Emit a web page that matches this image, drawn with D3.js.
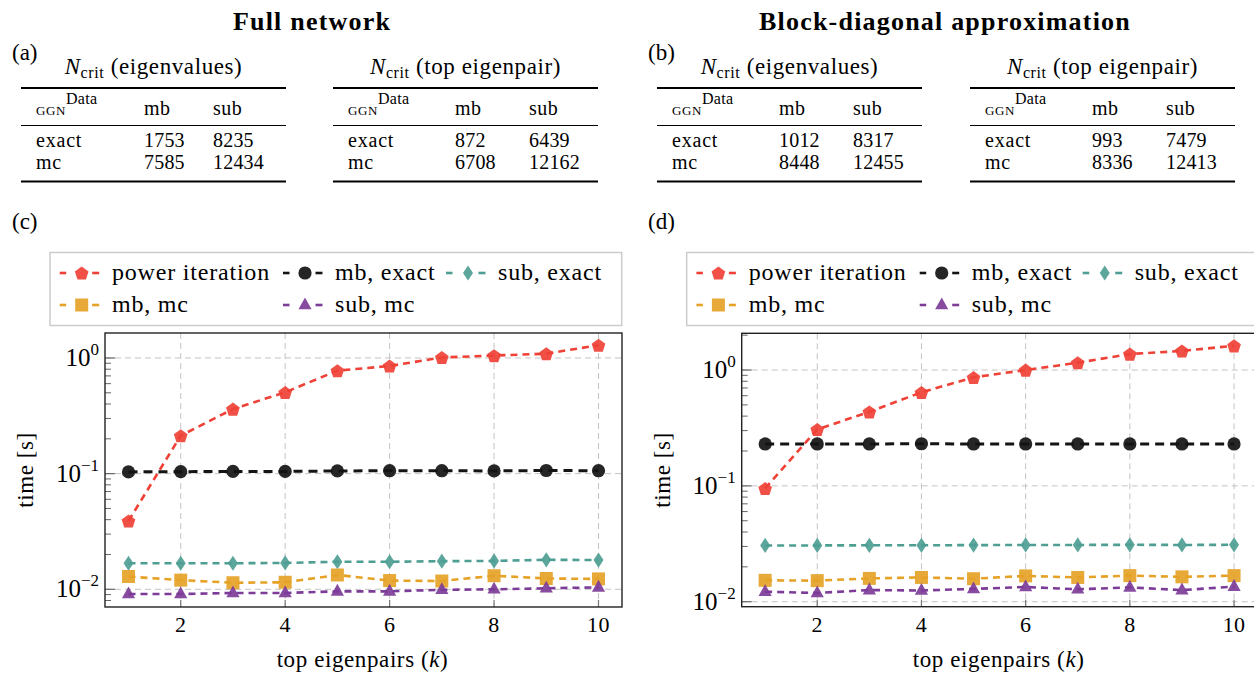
<!DOCTYPE html>
<html>
<head>
<meta charset="utf-8">
<script src="https://cdn.jsdelivr.net/npm/d3@7/dist/d3.min.js"></script>
<style>
  html, body { margin: 0; padding: 0; background: #fff; }
  svg { display: block; font-family: "Liberation Serif", "Times New Roman", serif; }
</style>
</head>
<body>
<svg id="fig" width="1254" height="673"></svg>
<script>
// ---- runtime data (seconds) for the top-k eigenpairs, k = 1..10 ----
const ks = [1, 2, 3, 4, 5, 6, 7, 8, 9, 10];

const fullPower    = [0.039, 0.213, 0.362, 0.505, 0.777, 0.853, 1.01, 1.05, 1.09, 1.29];
const fullMbExact  = [0.1035, 0.1040, 0.1045, 0.1045, 0.1055, 0.106, 0.106, 0.1055, 0.1065, 0.106];
const fullSubExact = [0.0168, 0.0168, 0.0168, 0.0169, 0.0173, 0.0173, 0.0175, 0.0176, 0.0180, 0.0179];
const fullMbMc     = [0.0129, 0.0120, 0.0114, 0.0115, 0.0133, 0.0119, 0.0118, 0.0131, 0.0124, 0.0123];
const fullSubMc    = [0.0091, 0.0091, 0.0093, 0.0093, 0.0096, 0.0096, 0.0099, 0.0100, 0.0102, 0.0104];

const blockPower    = [0.095, 0.307, 0.436, 0.642, 0.865, 1.00, 1.156, 1.375, 1.46, 1.62];
const blockMbExact  = [0.230, 0.230, 0.230, 0.231, 0.230, 0.230, 0.230, 0.230, 0.230, 0.230];
const blockSubExact = [0.0306, 0.0306, 0.0307, 0.0307, 0.0308, 0.0309, 0.0309, 0.0310, 0.0309, 0.0310];
const blockMbMc     = [0.0153, 0.0152, 0.0159, 0.0162, 0.0158, 0.0167, 0.0162, 0.0168, 0.0164, 0.0168];
const blockSubMc    = [0.0122, 0.0119, 0.0126, 0.0125, 0.0129, 0.0134, 0.0128, 0.0133, 0.0126, 0.0135];

const seriesNames  = ["power iteration", "mb, exact", "sub, exact", "mb, mc", "sub, mc"];
const seriesColors = ["#EF4136", "#141414", "#4E9E94", "#E5A227", "#7D3C98"];
const seriesMarks  = ["pentagon", "circle", "diamond", "square", "triangle"];

const xTicks = [2, 4, 6, 8, 10];

// ---- critical batch sizes N_crit ----
const tableRows = ["exact", "mc"];
const tableCols = ["mb", "sub"];
const fullEig   = [[1753, 8235], [7585, 12434]];
const fullTop   = [[872, 6439], [6708, 12162]];
const blockEig  = [[1012, 8317], [8448, 12455]];
const blockTop  = [[993, 7479], [8336, 12413]];

const svg = d3.select("#fig");

// ---- marker shapes ----
function markPath(kind) {
  const p = d3.path();
  if (kind === "pentagon") {
    const R = 7.2;
    for (let i = 0; i < 5; i++) {
      const a = -Math.PI / 2 + i * 2 * Math.PI / 5;
      const x = R * Math.cos(a), y = R * Math.sin(a) + 0.8;
      i ? p.lineTo(x, y) : p.moveTo(x, y);
    }
    p.closePath();
  } else if (kind === "circle") {
    p.arc(0, 0, 6.6, 0, 2 * Math.PI);
  } else if (kind === "diamond") {
    p.moveTo(0, -7.6); p.lineTo(5, 0); p.lineTo(0, 7.6); p.lineTo(-5, 0); p.closePath();
  } else if (kind === "square") {
    p.rect(-6.5, -6.5, 13, 13);
  } else if (kind === "triangle") {
    p.moveTo(0, -7.5); p.lineTo(6.6, 4.3); p.lineTo(-6.6, 4.3); p.closePath();
  }
  return p.toString();
}

// ---- headings ----
svg.append("text").attr("x", 312).attr("y", 30).attr("text-anchor", "middle")
  .attr("font-size", 26).attr("font-weight", "bold").attr("letter-spacing", 1.2).text("Full network");
svg.append("text").attr("x", 945).attr("y", 30).attr("text-anchor", "middle")
  .attr("font-size", 26).attr("font-weight", "bold").attr("letter-spacing", 1.2).text("Block-diagonal approximation");

// ---- panel letters ----
[["(a)", 12, 60], ["(b)", 648, 60], ["(c)", 12, 229], ["(d)", 648, 229]].forEach(([t, x, y]) => {
  svg.append("text").attr("x", x).attr("y", y).attr("font-size", 23).text(t);
});

// ---- booktabs-style tables ----
function drawTable(L, caption, values, colX) {
  const g = svg.append("g");
  const title = g.append("text").attr("x", L + 132.5).attr("y", 74)
    .attr("text-anchor", "middle").attr("font-size", 23).attr("letter-spacing", 0.6);
  title.append("tspan").attr("font-style", "italic").text("N");
  title.append("tspan").attr("font-size", 16).attr("dy", 4).text("crit");
  title.append("tspan").attr("dy", -4).text(" (" + caption + ")");

  g.append("line").attr("x1", L).attr("x2", L + 265).attr("y1", 88).attr("y2", 88)
    .attr("stroke", "#000").attr("stroke-width", 2);
  g.append("line").attr("x1", L).attr("x2", L + 265).attr("y1", 125.5).attr("y2", 125.5)
    .attr("stroke", "#000").attr("stroke-width", 1);
  g.append("line").attr("x1", L).attr("x2", L + 265).attr("y1", 181.5).attr("y2", 181.5)
    .attr("stroke", "#000").attr("stroke-width", 2);

  const head = g.append("text").attr("x", L + 15).attr("y", 115).attr("font-size", 13)
    .attr("letter-spacing", 0.6);
  head.append("tspan").text("GGN");
  head.append("tspan").attr("dy", -11).attr("font-size", 16).attr("letter-spacing", 0.3).text("Data");

  tableCols.forEach((c, j) => {
    g.append("text").attr("x", L + colX[j]).attr("y", 115).attr("font-size", 20)
      .attr("letter-spacing", 0.5).text(c);
  });
  tableRows.forEach((r, i) => {
    const y = 147 + i * 22;
    g.append("text").attr("x", L + 15).attr("y", y).attr("font-size", 20)
      .attr("letter-spacing", 0.8).text(r);
    values[i].forEach((v, j) => {
      g.append("text").attr("x", L + colX[j]).attr("y", y).attr("font-size", 20)
        .attr("letter-spacing", 0.2).text(v);
    });
  });
}
drawTable(21, "eigenvalues", fullEig, [123, 192]);
drawTable(333, "top eigenpair", fullTop, [122, 196]);
drawTable(657, "eigenvalues", blockEig, [122, 196]);
drawTable(970, "top eigenpair", blockTop, [122, 196]);

// ---- runtime panels ----
const panels = [
  { left: 105, right: 622, top: 333, bottom: 607, lo: -2.153, hi: 0.216,
    series: [fullPower, fullMbExact, fullSubExact, fullMbMc, fullSubMc] },
  { left: 741.7, right: 1257.5, top: 333.3, bottom: 606.7, lo: -2.043, hi: 0.317,
    series: [blockPower, blockMbExact, blockSubExact, blockMbMc, blockSubMc] }
];

const legendLayout = [
  { col: 0, row: 0 }, { col: 1, row: 0 }, { col: 2, row: 0 },
  { col: 0, row: 1 }, { col: 1, row: 1 }
];
const legendMarkX = [31.7, 255, 418];   // marker centres relative to legend box
const legendTextX = [62, 285, 448];

panels.forEach(P => {
  const x = d3.scaleLinear().domain([0.55, 10.45]).range([P.left, P.right]);
  const y = d3.scaleLog().domain([Math.pow(10, P.lo), Math.pow(10, P.hi)]).range([P.bottom, P.top]);
  const g = svg.append("g");

  const majors = [];
  const minors = [];
  for (let e = -3; e <= 1; e++) {
    const m = Math.pow(10, e);
    if (Math.log10(m) >= P.lo && Math.log10(m) <= P.hi) majors.push(m);
    for (let f = 2; f <= 9; f++) {
      const v = f * m, lv = Math.log10(v);
      if (lv >= P.lo && lv <= P.hi) minors.push(v);
    }
  }

  // grid
  g.append("g").selectAll("line").data(xTicks).join("line")
    .attr("x1", d => x(d)).attr("x2", d => x(d)).attr("y1", P.top).attr("y2", P.bottom)
    .attr("stroke", "#c4c4c4").attr("stroke-width", 1).attr("stroke-dasharray", "6,4");
  g.append("g").selectAll("line").data(majors).join("line")
    .attr("x1", P.left).attr("x2", P.right).attr("y1", d => y(d)).attr("y2", d => y(d))
    .attr("stroke", "#c4c4c4").attr("stroke-width", 1).attr("stroke-dasharray", "6,4");

  // ticks (inward)
  g.append("g").selectAll("line").data(xTicks).join("line")
    .attr("x1", d => x(d)).attr("x2", d => x(d)).attr("y1", P.bottom).attr("y2", P.bottom - 7)
    .attr("stroke", "#777").attr("stroke-width", 1.2);
  g.append("g").selectAll("line").data(minors).join("line")
    .attr("x1", P.left).attr("x2", P.left + 6).attr("y1", d => y(d)).attr("y2", d => y(d))
    .attr("stroke", "#666").attr("stroke-width", 1);
  g.append("g").selectAll("line").data(majors).join("line")
    .attr("x1", P.left).attr("x2", P.left + 10).attr("y1", d => y(d)).attr("y2", d => y(d))
    .attr("stroke", "#666").attr("stroke-width", 1.2);

  // series
  P.series.forEach((vals, si) => {
    const pts = ks.map((k, i) => [x(k), y(vals[i])]);
    g.append("path").attr("d", d3.line()(pts)).attr("fill", "none")
      .attr("stroke", seriesColors[si]).attr("stroke-width", si === 1 ? 3 : 2.6)
      .attr("stroke-dasharray", si === 1 ? "9,6" : "7,5");
  });
  P.series.forEach((vals, si) => {
    g.append("g").selectAll("path").data(ks).join("path")
      .attr("d", markPath(seriesMarks[si]))
      .attr("transform", (k, i) => `translate(${x(k)},${y(vals[i])})`)
      .attr("fill", seriesColors[si]).attr("fill-opacity", 0.92);
  });

  // frame
  g.append("rect").attr("x", P.left).attr("y", P.top)
    .attr("width", P.right - P.left).attr("height", P.bottom - P.top)
    .attr("fill", "none").attr("stroke", "#222").attr("stroke-width", 1.4);

  // tick labels
  g.append("g").selectAll("text").data(xTicks).join("text")
    .attr("x", d => x(d)).attr("y", P.bottom + 25).attr("text-anchor", "middle")
    .attr("font-size", 22).attr("letter-spacing", 0.4).text(d => d);
  majors.forEach(m => {
    const t = g.append("text").attr("x", P.left - 6).attr("y", y(m) + 8)
      .attr("text-anchor", "end").attr("font-size", 25);
    t.append("tspan").text("10");
    const e = Math.round(Math.log10(m));
    t.append("tspan").attr("dy", -11).attr("font-size", 17)
      .text(e < 0 ? "\u2212" + (-e) : String(e));
  });

  // axis titles
  const xl = g.append("text").attr("x", (P.left + P.right) / 2 - 1).attr("y", 667)
    .attr("text-anchor", "middle").attr("font-size", 23).attr("letter-spacing", 0.6);
  xl.append("tspan").text("top eigenpairs (");
  xl.append("tspan").attr("font-style", "italic").text("k");
  xl.append("tspan").text(")");
  g.append("text").attr("transform", `translate(${P.left - 72},${(P.top + P.bottom) / 2}) rotate(-90)`)
    .attr("text-anchor", "middle").attr("font-size", 23).attr("letter-spacing", 0.6).text("time [s]");

  // legend
  const lx = P.left - 55;
  const lg = g.append("g").attr("transform", `translate(${lx},252.5)`);
  lg.append("rect").attr("width", 571.7).attr("height", 73)
    .attr("fill", "#fff").attr("stroke", "#ccc").attr("stroke-width", 1.5);
  seriesNames.forEach((name, si) => {
    const L = legendLayout[si];
    const my = 20.5 + L.row * 32;
    const mx = legendMarkX[L.col];
    [[mx - 22, mx - 15.5], [mx + 10.5, mx + 17.5]].forEach(([a, b]) => {
      lg.append("line").attr("x1", a).attr("x2", b).attr("y1", my).attr("y2", my)
        .attr("stroke", seriesColors[si]).attr("stroke-width", 2.6);
    });
    lg.append("path").attr("d", markPath(seriesMarks[si]))
      .attr("transform", `translate(${mx},${my})`)
      .attr("fill", seriesColors[si]).attr("fill-opacity", 0.92);
    lg.append("text").attr("x", legendTextX[L.col]).attr("y", my + 7)
      .attr("font-size", 24).attr("letter-spacing", 0.8).text(name);
  });
});
</script>
</body>
</html>
